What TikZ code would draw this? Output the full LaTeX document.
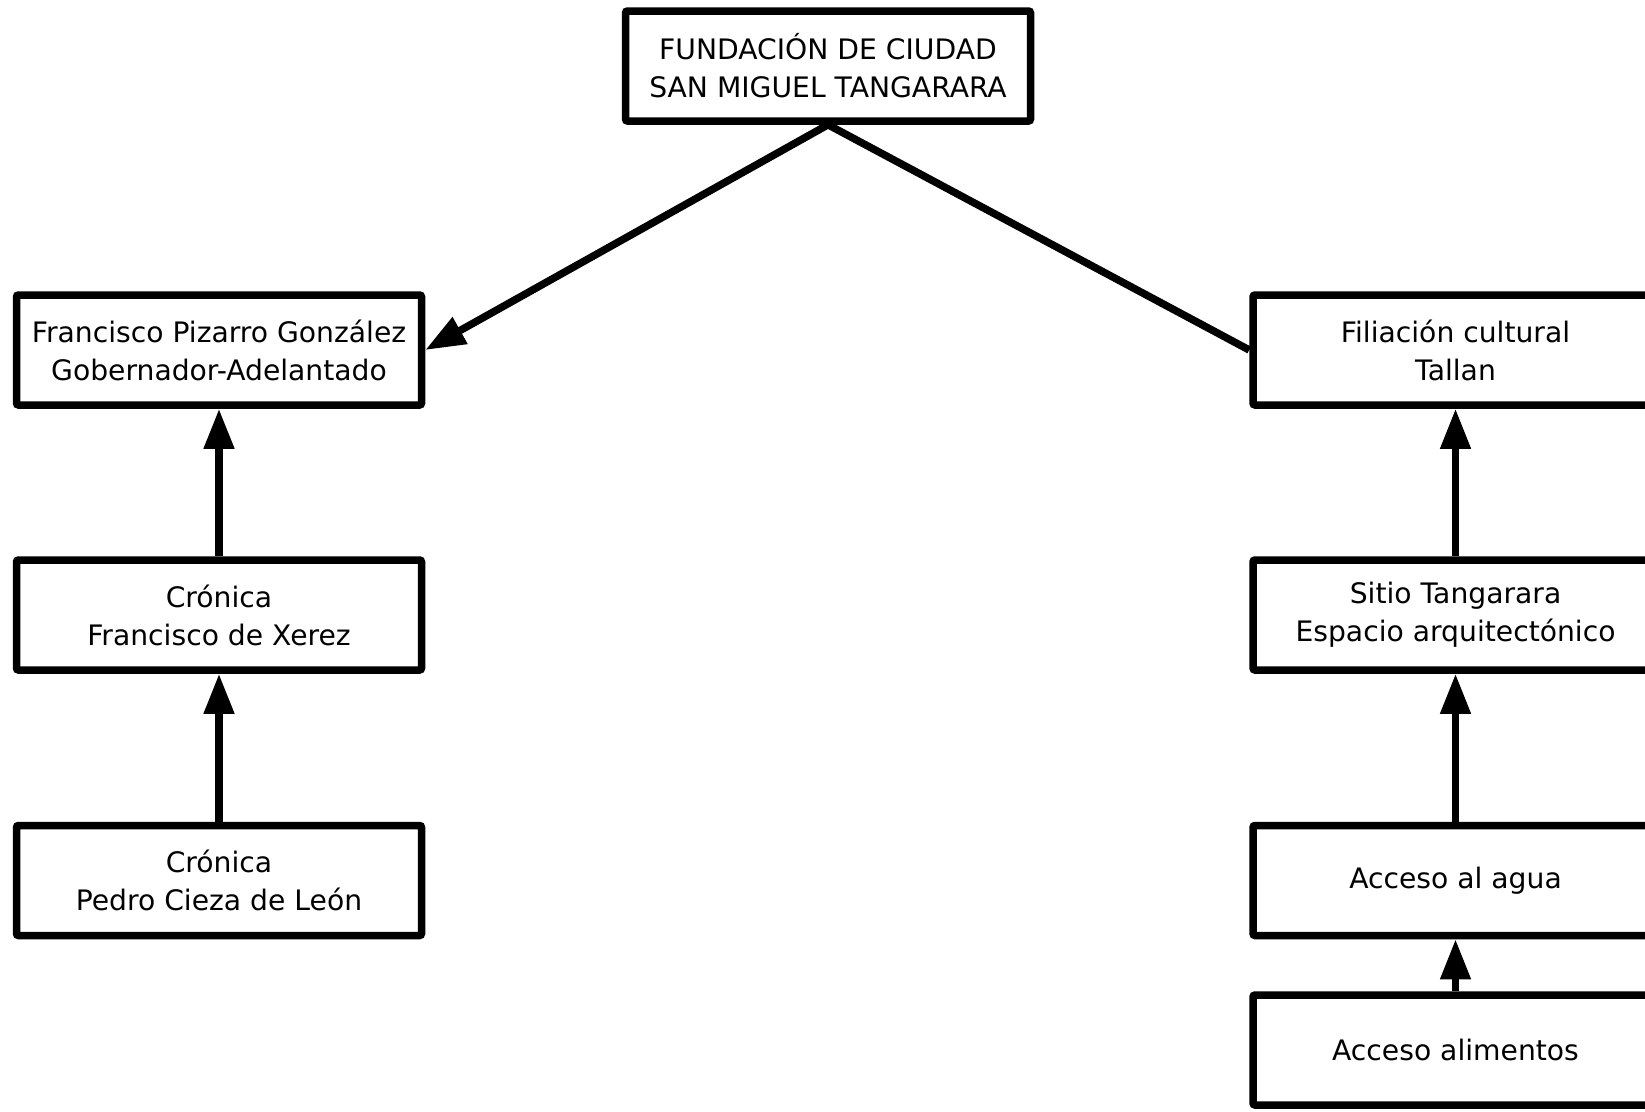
\documentclass[tikz,border=0pt]{standalone}
\usepackage{fontspec}
\setmainfont{DejaVu Sans}
\usetikzlibrary{arrows.meta}
\begin{document}
\begin{tikzpicture}[x=1pt,y=-1pt,
  box/.style={draw=black, line width=7.5pt, rounded corners=2pt, fill=white,
    minimum width=405pt, minimum height=110pt, align=center,
    font=\fontsize{28.2}{38}\selectfont, inner sep=0pt},
  conn/.style={line width=7.5pt, draw=black},
  tip/.style={-{Triangle[length=40pt,width=29pt]}}]
\clip (0,0) rectangle (1645,1111);
\fill[white] (0,0) rectangle (1645,1111);
\node[box] (top) at (828,66) {FUNDACIÓN DE CIUDAD\\SAN MIGUEL TANGARARA};
\node[box] (fp) at (219,350) {Francisco Pizarro González\\Gobernador-Adelantado};
\node[box] (cx) at (219,615) {Crónica\\Francisco de Xerez};
\node[box] (cc) at (219,880.5) {Crónica\\Pedro Cieza de León};
\node[box] (fil) at (1455.5,350) {Filiación cultural\\Tallan};
\node[box] (st) at (1455.5,615) {Sitio Tangarara\\Espacio arquitectónico};
\node[box] (ag) at (1455.5,880.5) {Acceso al agua};
\node[box] (al) at (1455.5,1050) {Acceso alimentos};
\draw[conn,tip] (top.south) -- (fp.east);
\draw[conn] (top.south) -- (fil.west);
\draw[conn,tip] (cx.north) -- (fp.south);
\draw[conn,tip] (cc.north) -- (cx.south);
\draw[conn,tip] (st.north) -- (fil.south);
\draw[conn,tip] (ag.north) -- (st.south);
\draw[conn,tip] (al.north) -- (ag.south);
\end{tikzpicture}
\end{document}
